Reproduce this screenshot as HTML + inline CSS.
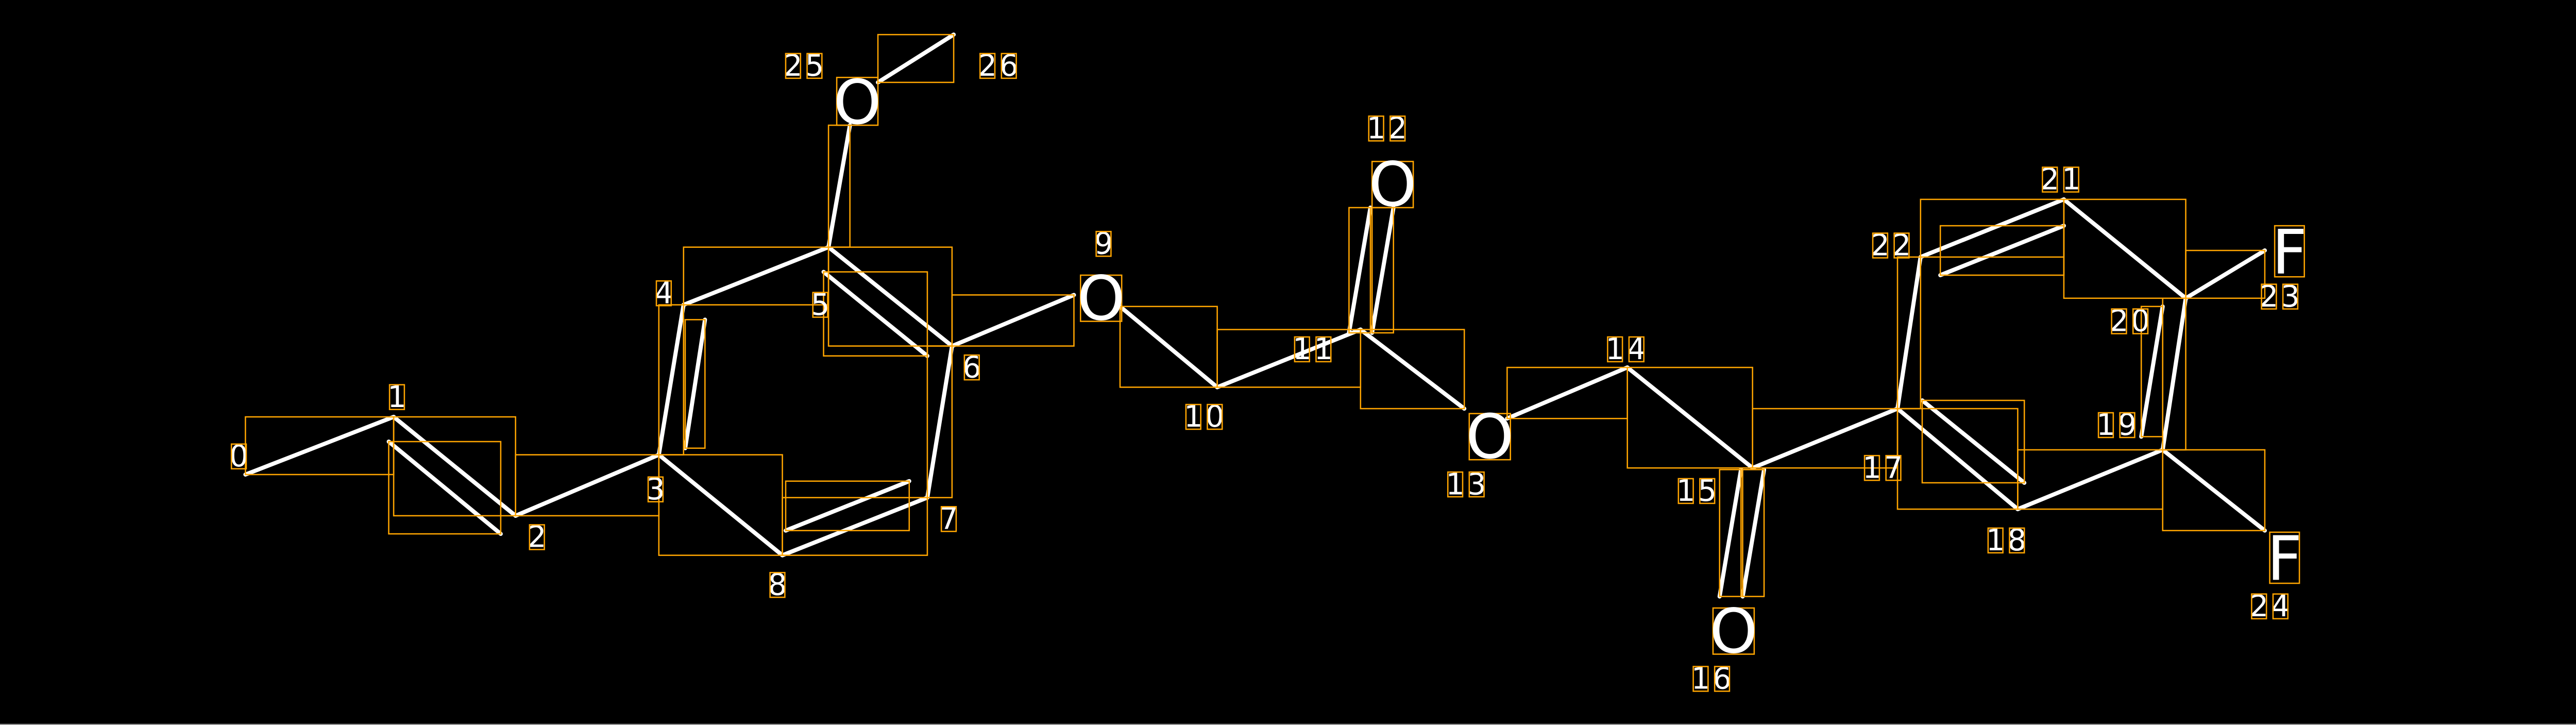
<!DOCTYPE html>
<html><head><meta charset="utf-8"><style>
html,body{margin:0;padding:0;background:#000;}
svg{display:block;}
text{font-family:"DejaVu Sans","Liberation Sans",sans-serif;fill:#fff;}
</style></head><body>
<svg width="5013" height="1407" viewBox="0 0 1568 440" preserveAspectRatio="none" xmlns="http://www.w3.org/2000/svg">
<rect x="0" y="0" width="1568" height="440" fill="#000"/>
<rect x="1567.3" y="0" width="0.7" height="440" fill="#999"/>
<rect x="0" y="439.3" width="1568" height="0.7" fill="#999"/>
<g stroke="#fff" stroke-width="2.5" stroke-linecap="round">
<line x1="149" y1="288" x2="239" y2="253"/>
<line x1="239" y1="253" x2="313" y2="313"/>
<line x1="236" y1="268" x2="304" y2="324"/>
<line x1="313" y1="313" x2="400" y2="276"/>
<line x1="400" y1="276" x2="415" y2="185"/>
<line x1="416" y1="272" x2="428" y2="194"/>
<line x1="415" y1="185" x2="503" y2="150"/>
<line x1="503" y1="150" x2="578" y2="210"/>
<line x1="500" y1="165" x2="563" y2="216"/>
<line x1="578" y1="210" x2="563" y2="302"/>
<line x1="563" y1="302" x2="475" y2="337"/>
<line x1="552" y1="292" x2="477" y2="322"/>
<line x1="475" y1="337" x2="400" y2="276"/>
<line x1="503" y1="150" x2="516" y2="76"/>
<line x1="533" y1="50" x2="579" y2="21"/>
<line x1="578" y1="210" x2="652" y2="179"/>
<line x1="680" y1="186" x2="739" y2="235"/>
<line x1="739" y1="235" x2="826" y2="200"/>
<line x1="819" y1="202" x2="832" y2="126"/>
<line x1="833" y1="202" x2="846" y2="126"/>
<line x1="826" y1="200" x2="889" y2="248"/>
<line x1="915" y1="254" x2="988" y2="223"/>
<line x1="988" y1="223" x2="1064" y2="284"/>
<line x1="1057" y1="285" x2="1044" y2="362"/>
<line x1="1071" y1="285" x2="1058" y2="362"/>
<line x1="1064" y1="284" x2="1152" y2="248"/>
<line x1="1152" y1="248" x2="1225" y2="309"/>
<line x1="1167" y1="243" x2="1229" y2="293"/>
<line x1="1225" y1="309" x2="1313" y2="273"/>
<line x1="1313" y1="273" x2="1327" y2="181"/>
<line x1="1300" y1="265" x2="1313" y2="186"/>
<line x1="1327" y1="181" x2="1253" y2="121"/>
<line x1="1253" y1="121" x2="1166" y2="156"/>
<line x1="1253" y1="137" x2="1178" y2="167"/>
<line x1="1166" y1="156" x2="1152" y2="248"/>
<line x1="1327" y1="181" x2="1375" y2="152"/>
<line x1="1313" y1="273" x2="1375" y2="322"/>
</g>
<g fill="none" stroke="#ffa500" stroke-width="0.8">
<rect x="149" y="253" width="90" height="35"/>
<rect x="239" y="253" width="74" height="60"/>
<rect x="236" y="268" width="68" height="56"/>
<rect x="313" y="276" width="87" height="37"/>
<rect x="400" y="185" width="15" height="91"/>
<rect x="416" y="194" width="12" height="78"/>
<rect x="415" y="150" width="88" height="35"/>
<rect x="503" y="150" width="75" height="60"/>
<rect x="500" y="165" width="63" height="51"/>
<rect x="563" y="210" width="15" height="92"/>
<rect x="475" y="302" width="88" height="35"/>
<rect x="477" y="292" width="75" height="30"/>
<rect x="400" y="276" width="75" height="61"/>
<rect x="503" y="76" width="13" height="74"/>
<rect x="533" y="21" width="46" height="29"/>
<rect x="578" y="179" width="74" height="31"/>
<rect x="680" y="186" width="59" height="49"/>
<rect x="739" y="200" width="87" height="35"/>
<rect x="819" y="126" width="13" height="76"/>
<rect x="833" y="126" width="13" height="76"/>
<rect x="826" y="200" width="63" height="48"/>
<rect x="915" y="223" width="73" height="31"/>
<rect x="988" y="223" width="76" height="61"/>
<rect x="1044" y="285" width="13" height="77"/>
<rect x="1058" y="285" width="13" height="77"/>
<rect x="1064" y="248" width="88" height="36"/>
<rect x="1152" y="248" width="73" height="61"/>
<rect x="1167" y="243" width="62" height="50"/>
<rect x="1225" y="273" width="88" height="36"/>
<rect x="1313" y="181" width="14" height="92"/>
<rect x="1300" y="186" width="13" height="79"/>
<rect x="1253" y="121" width="74" height="60"/>
<rect x="1166" y="121" width="87" height="35"/>
<rect x="1178" y="137" width="75" height="30"/>
<rect x="1152" y="156" width="14" height="92"/>
<rect x="1327" y="152" width="48" height="29"/>
<rect x="1313" y="273" width="62" height="49"/>
<rect x="508" y="47" width="25" height="29"/>
<rect x="656" y="167" width="25" height="28"/>
<rect x="833" y="98" width="25" height="28"/>
<rect x="892" y="251" width="25" height="28"/>
<rect x="1040" y="369" width="25" height="28"/>
<rect x="1381" y="137" width="18" height="31"/>
<rect x="1378" y="323" width="18" height="31"/>
</g>
<g font-size="37" text-anchor="middle">
<text x="520.5" y="75">O</text>
<text x="668.5" y="194">O</text>
<text x="845.5" y="125">O</text>
<text x="904.5" y="278">O</text>
<text x="1052.5" y="396">O</text>
<text x="1390" y="166">F</text>
<text x="1387" y="352">F</text>
</g>
<g font-size="18" text-anchor="middle">
<text x="145" y="283">0</text>
<text x="241" y="247">1</text>
<text x="326" y="332">2</text>
<text x="398" y="303">3</text>
<text x="403" y="184">4</text>
<text x="498" y="191">5</text>
<text x="590" y="229">6</text>
<text x="576" y="321">7</text>
<text x="472" y="361">8</text>
<text x="670" y="154">9</text>
<text x="724.5" y="259">1</text><text x="737.5" y="259">0</text>
<text x="790.5" y="218">1</text><text x="803.5" y="218">1</text>
<text x="835.5" y="84">1</text><text x="848.5" y="84">2</text>
<text x="883.5" y="300">1</text><text x="896.5" y="300">3</text>
<text x="980.5" y="218">1</text><text x="993.5" y="218">4</text>
<text x="1023.5" y="304">1</text><text x="1036.5" y="304">5</text>
<text x="1032.5" y="418">1</text><text x="1045.5" y="418">6</text>
<text x="1136.5" y="290">1</text><text x="1149.5" y="290">7</text>
<text x="1211.5" y="334">1</text><text x="1224.5" y="334">8</text>
<text x="1278.5" y="264">1</text><text x="1291.5" y="264">9</text>
<text x="1286.5" y="201">2</text><text x="1299.5" y="201">0</text>
<text x="1244.5" y="115">2</text><text x="1257.5" y="115">1</text>
<text x="1141.5" y="155">2</text><text x="1154.5" y="155">2</text>
<text x="1377.5" y="186">2</text><text x="1390.5" y="186">3</text>
<text x="1371.5" y="374">2</text><text x="1384.5" y="374">4</text>
<text x="481.5" y="46">2</text><text x="494.5" y="46">5</text>
<text x="599.5" y="46">2</text><text x="612.5" y="46">6</text>
</g>
<g fill="none" stroke="#ffa500" stroke-width="0.8">
<rect x="140.5" y="269.5" width="9" height="15"/>
<rect x="236.5" y="233.5" width="9" height="15"/>
<rect x="321.5" y="318.5" width="9" height="15"/>
<rect x="393.5" y="289.5" width="9" height="15"/>
<rect x="398.5" y="170.5" width="9" height="15"/>
<rect x="493.5" y="177.5" width="9" height="15"/>
<rect x="585.5" y="215.5" width="9" height="15"/>
<rect x="571.5" y="307.5" width="9" height="15"/>
<rect x="467.5" y="347.5" width="9" height="15"/>
<rect x="665.5" y="140.5" width="9" height="15"/>
<rect x="720" y="245.5" width="9" height="15"/><rect x="733" y="245.5" width="9" height="15"/>
<rect x="786" y="204.5" width="9" height="15"/><rect x="799" y="204.5" width="9" height="15"/>
<rect x="831" y="70.5" width="9" height="15"/><rect x="844" y="70.5" width="9" height="15"/>
<rect x="879" y="286.5" width="9" height="15"/><rect x="892" y="286.5" width="9" height="15"/>
<rect x="976" y="204.5" width="9" height="15"/><rect x="989" y="204.5" width="9" height="15"/>
<rect x="1019" y="290.5" width="9" height="15"/><rect x="1032" y="290.5" width="9" height="15"/>
<rect x="1028" y="404.5" width="9" height="15"/><rect x="1041" y="404.5" width="9" height="15"/>
<rect x="1132" y="276.5" width="9" height="15"/><rect x="1145" y="276.5" width="9" height="15"/>
<rect x="1207" y="320.5" width="9" height="15"/><rect x="1220" y="320.5" width="9" height="15"/>
<rect x="1274" y="250.5" width="9" height="15"/><rect x="1287" y="250.5" width="9" height="15"/>
<rect x="1282" y="187.5" width="9" height="15"/><rect x="1295" y="187.5" width="9" height="15"/>
<rect x="1240" y="101.5" width="9" height="15"/><rect x="1253" y="101.5" width="9" height="15"/>
<rect x="1137" y="141.5" width="9" height="15"/><rect x="1150" y="141.5" width="9" height="15"/>
<rect x="1373" y="172.5" width="9" height="15"/><rect x="1386" y="172.5" width="9" height="15"/>
<rect x="1367" y="360.5" width="9" height="15"/><rect x="1380" y="360.5" width="9" height="15"/>
<rect x="477" y="32.5" width="9" height="15"/><rect x="490" y="32.5" width="9" height="15"/>
<rect x="595" y="32.5" width="9" height="15"/><rect x="608" y="32.5" width="9" height="15"/>
</g>
</svg>
</body></html>
